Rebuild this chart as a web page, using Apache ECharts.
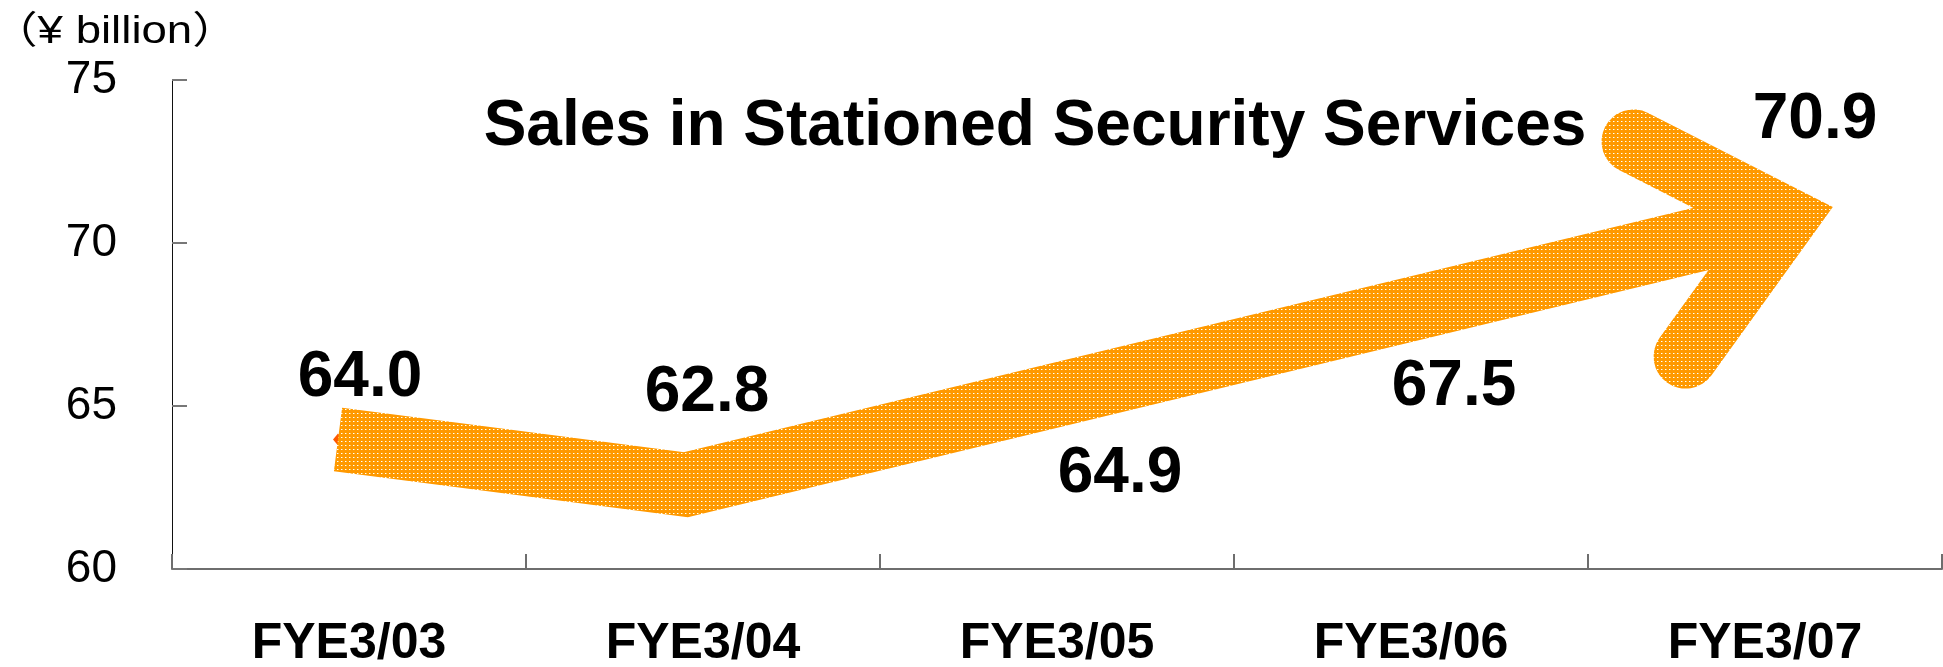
<!DOCTYPE html>
<html>
<head>
<meta charset="utf-8">
<script src="https://cdn.jsdelivr.net/npm/echarts@6/dist/echarts.min.js"></script>
<style>
  html, body { margin: 0; padding: 0; background: #fff; }
  #chart { width: 1943px; height: 667px; }
</style>
</head>
<body>
<div id="chart"></div>
<script>
// values
const fiscalYears = ["FYE3/03", "FYE3/04", "FYE3/05", "FYE3/06", "FYE3/07"];
const sales = [64.0, 62.8, 64.9, 67.5, 70.9];

const FONT = 'Arial, "Liberation Sans", "Noto Sans CJK JP", sans-serif';

// where each value label sits, relative to its point (px)
const labelOffsets = [[11, -60], [4, -84], [63, 65], [43, 63], [50, -93]];

// the big arrow goes through the first two years, then straight to the last one
const arrowIdx = [0, 1, fiscalYears.length - 1];
// small pixel nudges so the hand drawn arrow lines up with the original
const arrowNudge = [[-11, 1], [-17, 7], [20, 5]];

function dotPattern() {
  const c = document.createElement("canvas");
  c.width = 4;
  c.height = 4;
  const ctx = c.getContext("2d");
  ctx.fillStyle = "#ff9900";
  ctx.fillRect(0, 0, 4, 4);
  ctx.fillStyle = "#ffffff";
  ctx.fillRect(1, 1, 1, 1);
  ctx.fillStyle = "#ffcc66";
  ctx.fillRect(2, 1, 1, 1);
  return c;
}
const arrowPaint = { image: dotPattern(), repeat: "repeat" };

function renderArrow(params, api) {
  if (params.dataIndex !== 0) return null;
  const [start, kink, tip] = arrowIdx.map((i, k) => {
    const p = api.coord([i, sales[i]]);
    return [p[0] + arrowNudge[k][0], p[1] + arrowNudge[k][1]];
  });

  // direction of the long leg
  let dx = tip[0] - kink[0];
  let dy = tip[1] - kink[1];
  const len = Math.hypot(dx, dy);
  dx /= len;
  dy /= len;

  // arrow head barbs
  const barb = 170;
  const ang = (40.6 * Math.PI) / 180;
  const bx = -dx;
  const by = -dy;
  const rot = (a) => [
    tip[0] + barb * (bx * Math.cos(a) - by * Math.sin(a)),
    tip[1] + barb * (bx * Math.sin(a) + by * Math.cos(a)),
  ];

  return {
    type: "group",
    children: [
      {
        type: "polyline",
        shape: { points: [start, kink, tip] },
        style: { stroke: arrowPaint, fill: "none", lineWidth: 64, lineCap: "butt", lineJoin: "miter" },
      },
      {
        type: "polyline",
        shape: { points: [rot(ang), tip, rot(-ang)] },
        style: { stroke: arrowPaint, fill: "none", lineWidth: 64, lineCap: "round", lineJoin: "miter", miterLimit: 10 },
      },
    ],
  };
}

const chart = echarts.init(document.getElementById("chart"), null, { renderer: "canvas" });

const option = {
  animation: false,
  backgroundColor: "#fff",
  grid: { left: 172, right: 1, top: 80, bottom: 98, containLabel: false, outerBoundsMode: "none" },
  xAxis: {
    type: "category",
    data: fiscalYears,
    boundaryGap: true,
    axisLine: { lineStyle: { color: "#6e6e6e", width: 2 } },
    axisTick: { show: true, inside: true, length: 15, lineStyle: { color: "#6e6e6e", width: 2 } },
    axisLabel: { color: "#000", fontFamily: FONT, fontSize: 50, fontWeight: "bold", margin: 50 },
    splitLine: { show: false },
  },
  yAxis: {
    type: "value",
    min: 60,
    max: 75,
    interval: 5,
    axisLine: { show: true, lineStyle: { color: "#111", width: 1 } },
    axisTick: { show: true, inside: true, length: 15, lineStyle: { color: "#777", width: 2 } },
    axisLabel: { color: "#000", fontFamily: FONT, fontSize: 46, margin: 55 },
    splitLine: { show: false },
  },
  graphic: [
    {
      type: "text",
      x: -8,
      y: 33,
      scaleX: 1.2,
      style: {
        text: "（¥ billion）",
        fill: "#000",
        font: "38px " + FONT,
        align: "left",
        textAlign: "left",
        verticalAlign: "middle",
        textVerticalAlign: "middle",
      },
    },
    {
      type: "text",
      x: 1035,
      y: 127,
      z: 100,
      style: {
        text: "Sales in Stationed Security Services",
        fill: "#000",
        font: "bold 64px " + FONT,
        align: "center",
        textAlign: "center",
        verticalAlign: "middle",
        textVerticalAlign: "middle",
      },
    },
  ],
  series: [
    {
      // original data marker peeking out from behind the arrow
      type: "scatter",
      data: [sales[0]],
      symbol: "diamond",
      symbolSize: [10, 12],
      symbolOffset: [-11, 1],
      itemStyle: { color: "#ff5a00", opacity: 1 },
      z: 1,
    },
    {
      type: "custom",
      data: arrowIdx.map((i) => [i, sales[i]]),
      encode: { x: 0, y: 1 },
      renderItem: renderArrow,
      z: 2,
    },
    {
      type: "scatter",
      symbolSize: 0,
      itemStyle: { opacity: 1 },
      data: sales.map((v, i) => ({ value: v, label: { offset: labelOffsets[i] } })),
      label: {
        show: true,
        position: "inside",
        formatter: (p) => p.value.toFixed(1),
        color: "#000",
        opacity: 1,
        fontFamily: FONT,
        fontSize: 64,
        fontWeight: "bold",
      },
      z: 5,
    },
  ],
};

chart.setOption(option);
</script>
</body>
</html>
